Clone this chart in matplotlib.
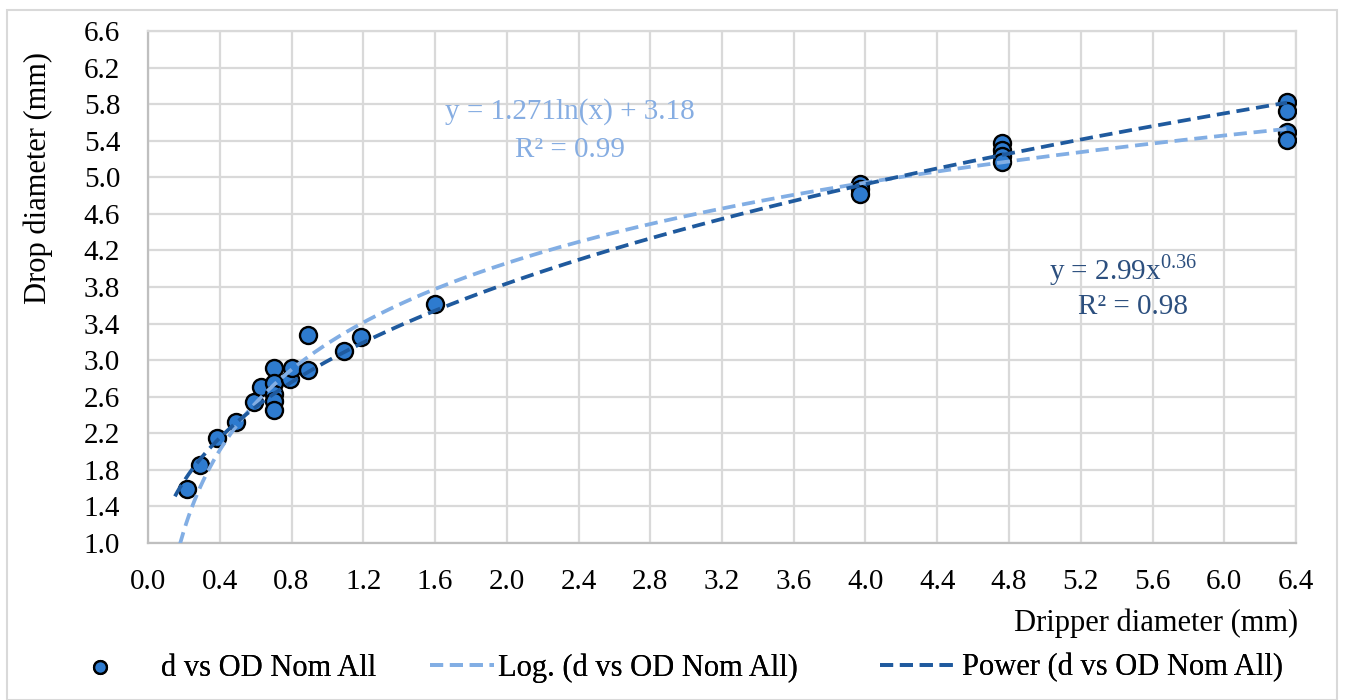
import numpy as np
import matplotlib
matplotlib.use('Agg')
import matplotlib.pyplot as plt
from matplotlib.patches import Rectangle

plt.rcParams['font.family'] = ['Liberation Serif', 'DejaVu Serif']
plt.rcParams['mathtext.fontset'] = 'custom'
plt.rcParams['mathtext.rm'] = 'Liberation Serif'

# datos
dripper = [0.22, 0.29, 0.385, 0.49, 0.59, 0.63,
           0.70, 0.70, 0.70, 0.70, 0.70,
           0.79, 0.80, 0.89, 0.89, 1.09, 1.19, 1.60,
           3.97, 3.97, 3.97,
           4.76, 4.76, 4.76, 4.76,
           6.35, 6.35, 6.35, 6.35]
drop = [1.59, 1.85, 2.15, 2.32, 2.54, 2.71,
        2.91, 2.75, 2.63, 2.55, 2.46,
        2.79, 2.91, 3.28, 2.89, 3.10, 3.25, 3.61,
        4.93, 4.87, 4.82,
        5.37, 5.30, 5.23, 5.17,
        5.82, 5.72, 5.50, 5.41]

# coeficientes de las lineas de tendencia (etiquetas del grafico)
log_a, log_b = 1.271, 3.18
pow_a, pow_b = 2.99, 0.36
x_min, x_max = 0.15, 6.35

xx = np.linspace(x_min, x_max, 400)
y_log = log_a * np.log(xx) + log_b
y_pow = pow_a * xx ** pow_b

fs = 21
fs_lab = 22

fig = plt.figure(figsize=(13.46, 7.0), dpi=100)
ax = fig.add_axes([148 / 1346, 1 - 543 / 700, (1296 - 148) / 1346, (543 - 31) / 700])

c_pts = '#2E7BCF'
c_log = '#82AEE4'
c_pow = '#1F5A9E'

h_pts = ax.scatter(dripper, drop, s=150, color=c_pts, edgecolor='black', linewidth=1.7,
                   zorder=3, label='d vs OD Nom All')
h_log, = ax.plot(xx, y_log, color=c_log, lw=2.7, ls=(0, (3.5, 1.8)), zorder=4,
                 label='Log. (d vs OD Nom All)')
h_pow, = ax.plot(xx, y_pow, color=c_pow, lw=2.7, ls=(0, (3.5, 1.8)), zorder=4,
                 label='Power (d vs OD Nom All)')

ax.set_xlim(0, 6.4)
ax.set_ylim(1.0, 6.6)
ax.set_xticks(np.arange(0, 6.41, 0.4))
ax.set_yticks(np.arange(1.0, 6.61, 0.4))
ax.set_xticklabels([f'{v:.1f}' for v in np.arange(0, 6.41, 0.4)])
ax.set_yticklabels([f'{v:.1f}' for v in np.arange(1.0, 6.61, 0.4)])
ax.tick_params(labelsize=fs, length=0)
ax.tick_params(axis='y', pad=20)
ax.tick_params(axis='x', pad=19)
ax.grid(True, color='#D9D9D9', lw=1.6)
ax.set_axisbelow(True)
for s in ax.spines.values():
    s.set_color('#D9D9D9')
    s.set_linewidth(1.6)
ax.spines['left'].set_color('#BFBFBF')
ax.spines['bottom'].set_color('#BFBFBF')

ax.text(570 / 1346, 1 - 112 / 700, 'y = 1.271ln(x) + 3.18', transform=fig.transFigure,
        ha='center', va='center', fontsize=fs, color='#86ADE2')
ax.text(570 / 1346, 1 - 150 / 700, 'R² = 0.99', transform=fig.transFigure,
        ha='center', va='center', fontsize=fs, color='#86ADE2')
ax.text(1123 / 1346, 1 - 270 / 700, r'y = 2.99x$^{0.36}$', transform=fig.transFigure,
        ha='center', va='center', fontsize=fs, color='#2C4F7E')
ax.text(1133 / 1346, 1 - 307 / 700, 'R² = 0.98', transform=fig.transFigure,
        ha='center', va='center', fontsize=fs, color='#2C4F7E')

fig.text(1298 / 1346, 1 - 623 / 700, 'Dripper diameter (mm)', ha='right', va='center',
         fontsize=fs_lab)
fig.text(38 / 1346, 1 - 178 / 700, 'Drop diameter (mm)', ha='center', va='center',
         rotation=90, fontsize=fs_lab)

# leyenda en tres piezas, como en el original
ley_y = 1 - 668 / 700
for h, x0, hl, pad, ms in [(h_pts, 66, 2.2, 0.92, 0.75),
                           (h_log, 430, 2.1, 0.12, 1.0),
                           (h_pow, 880, 2.55, 0.12, 1.0)]:
    leg = fig.legend(handles=[h], loc='center left', bbox_to_anchor=(x0 / 1346, ley_y),
                     frameon=False, fontsize=fs_lab, handlelength=hl, handletextpad=pad,
                     borderpad=0, borderaxespad=0, markerscale=ms)
    fig.add_artist(leg)

fig.patches.append(Rectangle((7 / 1346, 0), 1330 / 1346, 1 - 10 / 700, transform=fig.transFigure,
                             fill=False, edgecolor='#D9D9D9', lw=1.5))

fig.savefig('out.png', dpi=100)
